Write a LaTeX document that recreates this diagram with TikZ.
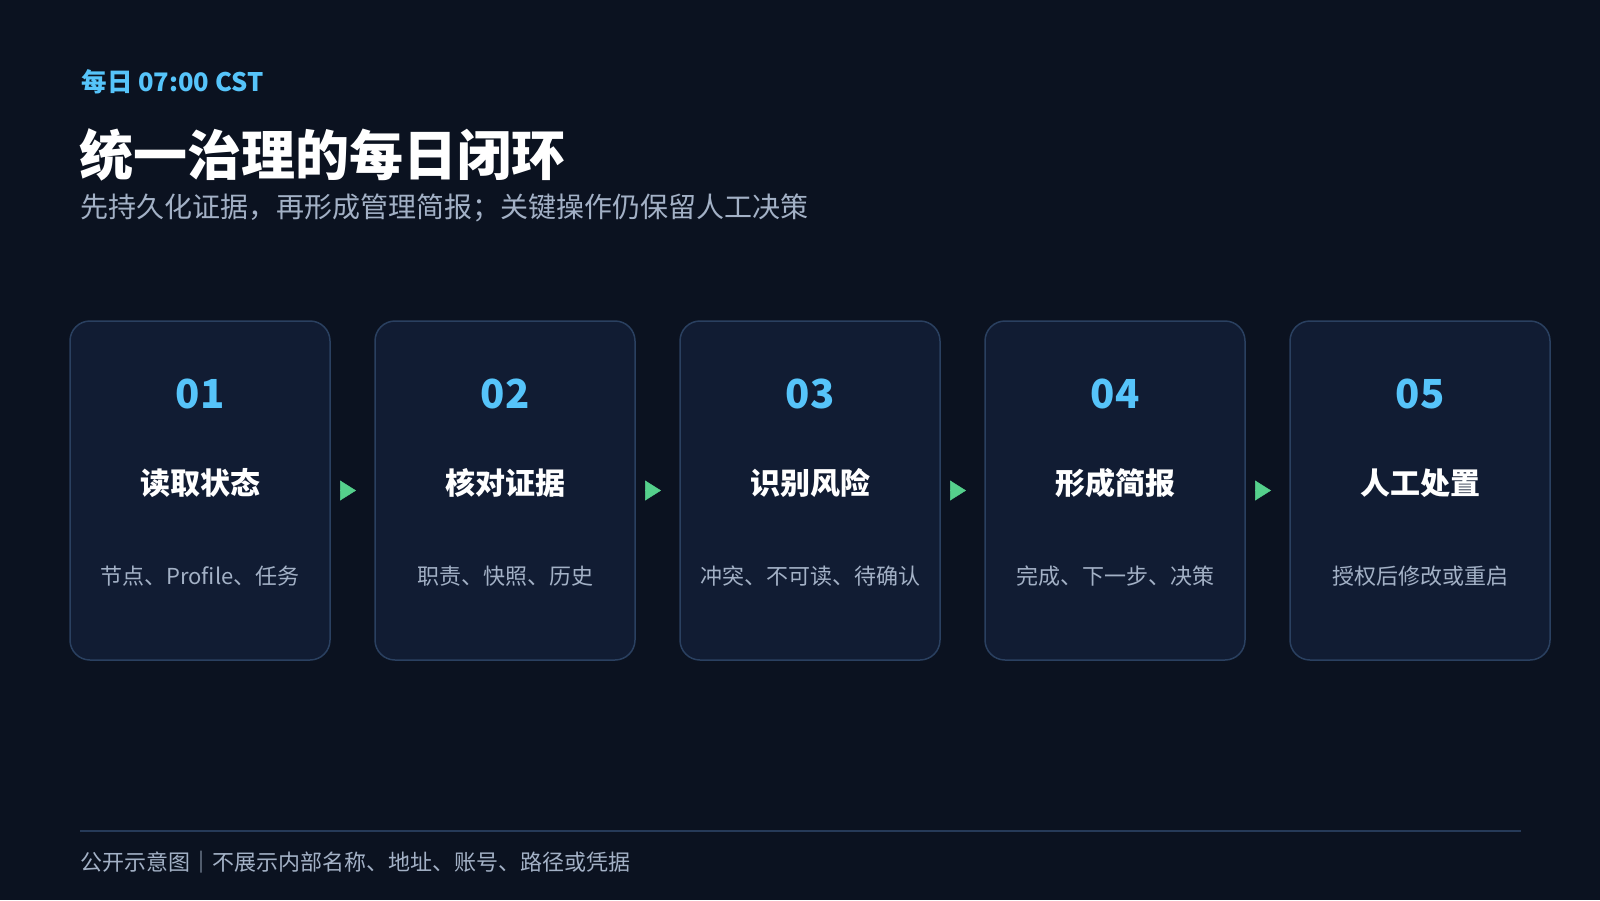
\documentclass[tikz,border=0pt]{standalone}
\usepackage{fontspec}
\setmainfont{Noto Sans CJK SC}
\usetikzlibrary{positioning,arrows.meta}

\definecolor{bgc}{HTML}{0B1220}
\definecolor{cardfill}{HTML}{111C33}
\definecolor{cardline}{HTML}{2A4060}
\definecolor{numc}{HTML}{56C4FA}
\definecolor{goc}{HTML}{55D08C}
\definecolor{greyc}{HTML}{A3B1C6}
\definecolor{rulec}{HTML}{263A58}

\tikzset{
  card/.style={draw=cardline, line width=1.5pt, fill=cardfill, rounded corners=20pt,
    minimum width=260pt, minimum height=339pt, inner sep=0pt, outer sep=0pt},
  num/.style={text=numc, font=\fontsize{40}{46}\selectfont\bfseries},
  ttl/.style={text=white, font=\fontsize{30}{36}\selectfont\bfseries},
  desc/.style={text=greyc, font=\fontsize{22}{26}\selectfont},
  go/.style={draw=goc, line width=0.5pt, -{Triangle[length=16pt,width=20pt]},
    shorten <=10pt, shorten >=19pt},
}

\begin{document}
\begin{tikzpicture}[x=1pt, y=-1pt, node distance=45pt]
    \fill[bgc] (0,0) rectangle (1600,900);
    \useasboundingbox (0,0) rectangle (1600,900);

    \node[anchor=west, text=numc, font=\fontsize{25.5}{30}\selectfont\bfseries] (tag) at (78,82) {每日 07:00 CST};
    \node[anchor=west, text=white, font=\fontsize{54}{60}\selectfont\bfseries] (head) at (76,155) {统一治理的每日闭环};
    \node[anchor=west, text=greyc, font=\fontsize{28}{34}\selectfont] (sub) at (77,208) {先持久化证据，再形成管理简报；关键操作仍保留人工决策};

    \node[card] (c1) at (200,490.5) {};
    \node[card, right=of c1] (c2) {};
    \node[card, right=of c2] (c3) {};
    \node[card, right=of c3] (c4) {};
    \node[card, right=of c4] (c5) {};

    \node[num] (n1) at (c1.north) [yshift=-73pt] {01};
    \node[ttl] (t1) at (c1.north) [yshift=-162pt] {读取状态};
    \node[desc] (d1) at (c1.north) [yshift=-255pt] {节点、Profile、任务};
    \node[num] (n2) at (c2.north) [yshift=-73pt] {02};
    \node[ttl] (t2) at (c2.north) [yshift=-162pt] {核对证据};
    \node[desc] (d2) at (c2.north) [yshift=-255pt] {职责、快照、历史};
    \node[num] (n3) at (c3.north) [yshift=-73pt] {03};
    \node[ttl] (t3) at (c3.north) [yshift=-162pt] {识别风险};
    \node[desc] (d3) at (c3.north) [yshift=-255pt] {冲突、不可读、待确认};
    \node[num] (n4) at (c4.north) [yshift=-73pt] {04};
    \node[ttl] (t4) at (c4.north) [yshift=-162pt] {形成简报};
    \node[desc] (d4) at (c4.north) [yshift=-255pt] {完成、下一步、决策};
    \node[num] (n5) at (c5.north) [yshift=-73pt] {05};
    \node[ttl] (t5) at (c5.north) [yshift=-162pt] {人工处置};
    \node[desc] (d5) at (c5.north) [yshift=-255pt] {授权后修改或重启};

    \draw[go] (c1.east) -- (c2.west);
    \draw[go] (c2.east) -- (c3.west);
    \draw[go] (c3.east) -- (c4.west);
    \draw[go] (c4.east) -- (c5.west);

    \coordinate (r1) at (80,831);
    \coordinate (r2) at (1521,831);
    \draw[rulec, line width=2pt] (r1) -- (r2);
    \node[anchor=west, text=greyc, font=\fontsize{22}{26}\selectfont] (foot) at (77,862) {公开示意图｜不展示内部名称、地址、账号、路径或凭据};
\end{tikzpicture}
\end{document}
